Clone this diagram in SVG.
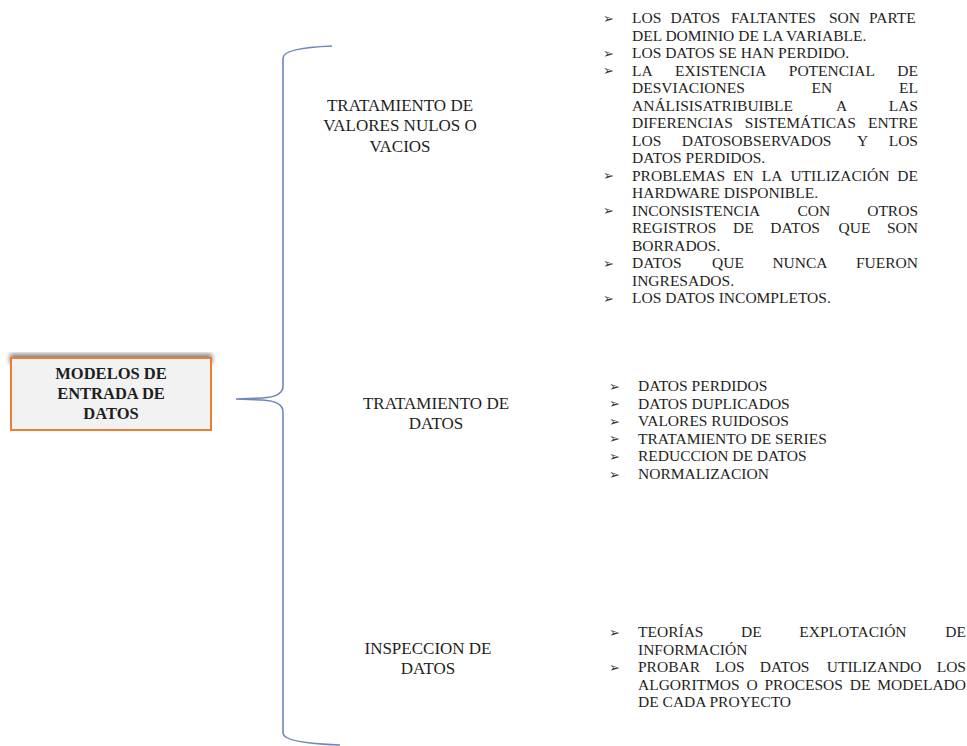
<svg xmlns="http://www.w3.org/2000/svg" width="967" height="746" viewBox="0 0 967 746">
<defs>
<style>
.t{font-family:"Liberation Serif","Times New Roman",serif;font-size:15.5px;fill:#1e1e1e}
.lbl{font-family:"Liberation Serif","Times New Roman",serif;font-size:17px;fill:#1e1e1e;text-anchor:middle}
.main{font-family:"Liberation Serif","Times New Roman",serif;font-size:16.5px;font-weight:bold;fill:#1e1e1e;text-anchor:middle}
.b{font-family:"DejaVu Sans",sans-serif;font-size:13px;fill:#333}
.brace{fill:none;stroke:#6f86b8;stroke-width:1.6}
</style>
<filter id="sh" x="-10%" y="-20%" width="120%" height="140%">
<feGaussianBlur stdDeviation="2.5"/>
</filter>
</defs>
<rect width="967" height="746" fill="#ffffff"/>

<g id="connectors">
<path class="brace" d="M332 46 Q283 48 283 58 L283 386 Q283 397 262 398 L236 399 L262 400 Q283 401 283 412 L283 733 Q283 743 340 745"/>
</g>

<g id="node-main">
<rect x="10" y="354" width="202" height="10" fill="#7a7a7a" filter="url(#sh)"/>
<rect x="11" y="358" width="200" height="72" fill="#f2f2f2" stroke="#ed7d31" stroke-width="2"/>
<text class="main" x="111" y="379">MODELOS DE</text>
<text class="main" x="111" y="399">ENTRADA DE</text>
<text class="main" x="111" y="419">DATOS</text>
</g>

<g id="node-valores">
<text class="lbl" x="400" y="111">TRATAMIENTO DE</text>
<text class="lbl" x="400" y="131">VALORES NULOS O</text>
<text class="lbl" x="400" y="152">VACIOS</text>
</g>

<g id="node-tratamiento">
<text class="lbl" x="436" y="409">TRATAMIENTO DE</text>
<text class="lbl" x="436" y="429">DATOS</text>
</g>

<g id="node-inspeccion">
<text class="lbl" x="428" y="654">INSPECCION DE</text>
<text class="lbl" x="428" y="674">DATOS</text>
</g>

<g id="list-valores">
<text class="b" x="603" y="22.5">➢</text>
<text class="t" y="23"><tspan x="632">LOS</tspan><tspan x="670.4">DATOS</tspan><tspan x="731.1">FALTANTES</tspan><tspan x="828.9">SON</tspan><tspan x="869">PARTE</tspan></text>
<text class="t" x="632" y="40.5">DEL DOMINIO DE LA VARIABLE.</text>
<text class="b" x="603" y="57.5">➢</text>
<text class="t" x="632" y="58">LOS DATOS SE HAN PERDIDO.</text>
<text class="b" x="603" y="75">➢</text>
<text class="t" y="75.5"><tspan x="632">LA</tspan><tspan x="675.1">EXISTENCIA</tspan><tspan x="788.8">POTENCIAL</tspan><tspan x="897.3">DE</tspan></text>
<text class="t" y="93"><tspan x="632">DESVIACIONES</tspan><tspan x="811.6">EN</tspan><tspan x="899.1">EL</tspan></text>
<text class="t" y="110.5"><tspan x="632">ANÁLISISATRIBUIBLE</tspan><tspan x="836.1">A</tspan><tspan x="888.7">LAS</tspan></text>
<text class="t" y="128"><tspan x="632">DIFERENCIAS</tspan><tspan x="744.8">SISTEMÁTICAS</tspan><tspan x="868.1">ENTRE</tspan></text>
<text class="t" y="145.5"><tspan x="632">LOS</tspan><tspan x="681.7">DATOSOBSERVADOS</tspan><tspan x="857.1">Y</tspan><tspan x="888.7">LOS</tspan></text>
<text class="t" x="632" y="163">DATOS PERDIDOS.</text>
<text class="b" x="603" y="180">➢</text>
<text class="t" y="180.5"><tspan x="632">PROBLEMAS</tspan><tspan x="733">EN</tspan><tspan x="761.7">LA</tspan><tspan x="790.4">UTILIZACIÓN</tspan><tspan x="897.3">DE</tspan></text>
<text class="t" x="632" y="198">HARDWARE DISPONIBLE.</text>
<text class="b" x="603" y="215">➢</text>
<text class="t" y="215.5"><tspan x="632">INCONSISTENCIA</tspan><tspan x="797.4">CON</tspan><tspan x="867.2">OTROS</tspan></text>
<text class="t" y="233"><tspan x="632">REGISTROS</tspan><tspan x="733">DE</tspan><tspan x="770.3">DATOS</tspan><tspan x="838.6">QUE</tspan><tspan x="887">SON</tspan></text>
<text class="t" x="632" y="250.5">BORRADOS.</text>
<text class="b" x="603" y="267.5">➢</text>
<text class="t" y="268"><tspan x="632">DATOS</tspan><tspan x="712.1">QUE</tspan><tspan x="772.4">NUNCA</tspan><tspan x="856">FUERON</tspan></text>
<text class="t" x="632" y="285.5">INGRESADOS.</text>
<text class="b" x="603" y="302.5">➢</text>
<text class="t" x="632" y="303">LOS DATOS INCOMPLETOS.</text>
</g>

<g id="list-tratamiento">
<text class="b" x="609" y="390.5">➢</text>
<text class="t" x="638" y="391">DATOS PERDIDOS</text>
<text class="b" x="609" y="408.1">➢</text>
<text class="t" x="638" y="408.6">DATOS DUPLICADOS</text>
<text class="b" x="609" y="425.7">➢</text>
<text class="t" x="638" y="426.2">VALORES RUIDOSOS</text>
<text class="b" x="609" y="443.3">➢</text>
<text class="t" x="638" y="443.8">TRATAMIENTO DE SERIES</text>
<text class="b" x="609" y="460.9">➢</text>
<text class="t" x="638" y="461.4">REDUCCION DE DATOS</text>
<text class="b" x="609" y="478.5">➢</text>
<text class="t" x="638" y="479">NORMALIZACION</text>
</g>

<g id="list-inspeccion">
<text class="b" x="609" y="636.5">➢</text>
<text class="t" y="637"><tspan x="638">TEORÍAS</tspan><tspan x="741">DE</tspan><tspan x="799.3">EXPLOTACIÓN</tspan><tspan x="945.3">DE</tspan></text>
<text class="t" x="638" y="654.5">INFORMACIÓN</text>
<text class="b" x="609" y="671.5">➢</text>
<text class="t" y="672"><tspan x="638">PROBAR</tspan><tspan x="715.3">LOS</tspan><tspan x="759.8">DATOS</tspan><tspan x="826.8">UTILIZANDO</tspan><tspan x="936.7">LOS</tspan></text>
<text class="t" y="689.5"><tspan x="638">ALGORITMOS</tspan><tspan x="746.5">O</tspan><tspan x="764.5">PROCESOS</tspan><tspan x="849.8">DE</tspan><tspan x="877.3">MODELADO</tspan></text>
<text class="t" x="638" y="707">DE CADA PROYECTO</text>
</g>
</svg>
